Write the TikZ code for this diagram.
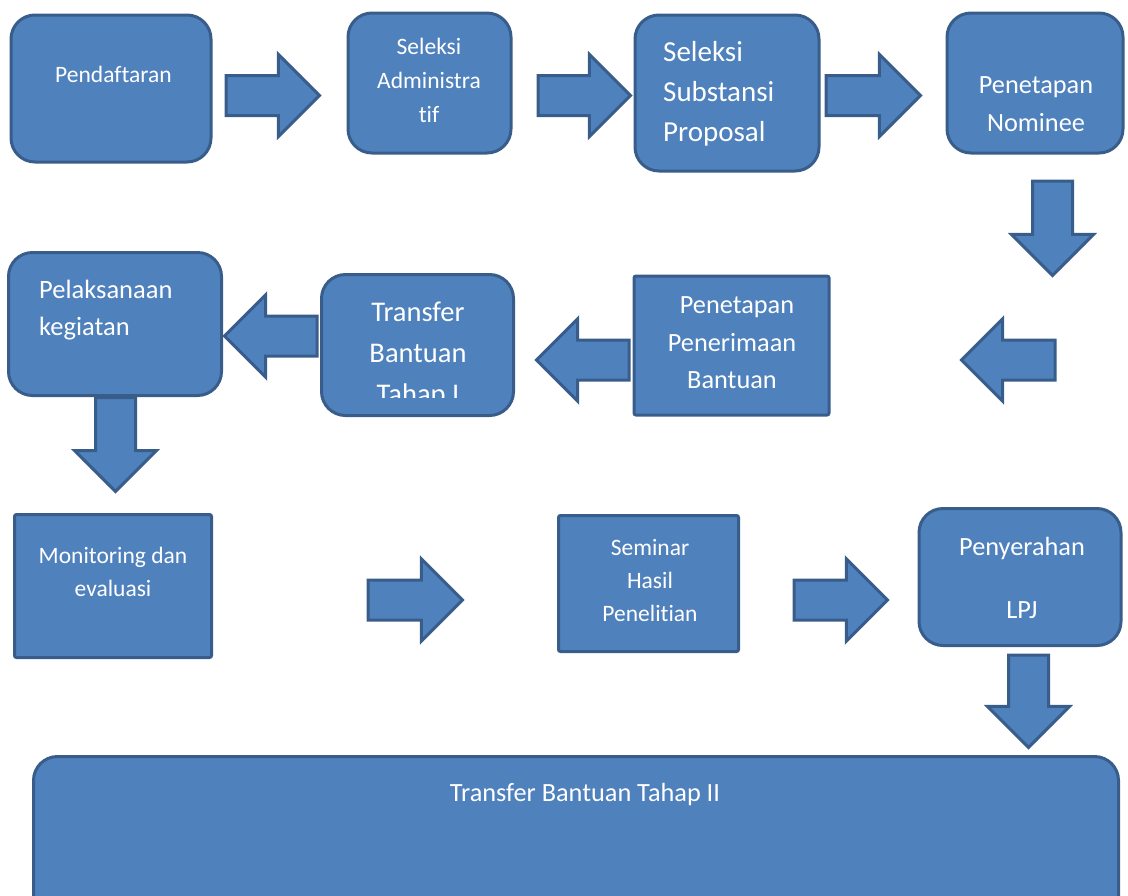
\documentclass[tikz,border=0pt]{standalone}
\usepackage{fontspec}
\setmainfont{Carlito}[Ligatures=NoCommon]
\usetikzlibrary{shapes.arrows}
\definecolor{boxfill}{HTML}{4F81BD}
\definecolor{boxline}{HTML}{385D8A}
\newcommand{\fsz}[2]{\fontsize{#1}{#2}\selectfont}

\begin{document}
\begin{tikzpicture}[x=1pt,y=-1pt,
  box/.style={draw=boxline,fill=boxfill,line width=3pt,rounded corners=24pt,inner sep=0pt},
  sbox/.style={box,rounded corners=2pt},
  txt/.style={text=white,inner sep=0pt,align=center},
  blk/.style={single arrow,draw=boxline,fill=boxfill,line width=3pt,inner xsep=0pt,inner ysep=18.5pt,
    single arrow head extend=21pt,single arrow tip angle=90,minimum height=#1,anchor=tail}]
  \useasboundingbox(0,0)rectangle(1128,895);
  \clip(0,0)rectangle(1128,895);
  \node[blk=93.4pt] (a1) at (224.5,95.5) {};
  \node[blk=92.4pt] (a2) at (536.5,95.5) {};
  \node[blk=94.4pt] (a3) at (824.5,95.5) {};
  \node[blk=94.4pt,rotate=-90] (a4) at (1052.5,179.5) {};
  \node[blk=93.4pt,rotate=180] (a5) at (1056.5,360) {};
  \node[blk=92.4pt,rotate=180] (a6) at (630.5,360) {};
  \node[blk=92.4pt,rotate=180] (a7) at (318.5,336) {};
  \node[blk=94pt,rotate=-90] (a8) at (115.5,396) {};
  \node[blk=94.4pt] (a9) at (366.5,600) {};
  \node[blk=93.4pt] (a10) at (792.5,600) {};
  \node[blk=92.4pt,rotate=-90] (a11) at (1028.5,653.5) {};

  \node[box,minimum width=200pt,minimum height=147pt] (daftar) at (111,88.5) {};
  \node[box,minimum width=163pt,minimum height=140pt] (admin) at (429.5,83) {};
  \node[box,minimum width=184pt,minimum height=156pt] (subst) at (727,93) {};
  \node[box,minimum width=176pt,minimum height=140pt] (nominee) at (1035,83) {};
  \node[sbox,minimum width=195pt,minimum height=139pt] (terima) at (731.5,345.5) {};
  \node[box,minimum width=192pt,minimum height=141pt] (tahap1) at (417.5,345) {};
  \node[box,minimum width=213pt,minimum height=143pt] (laksana) at (115,324) {};
  \node[sbox,minimum width=197pt,minimum height=143pt] (monev) at (113,586) {};
  \node[sbox,minimum width=180pt,minimum height=136pt] (seminar) at (648.5,583.5) {};
  \node[box,minimum width=202pt,minimum height=137pt] (lpj) at (1020,577) {};
  \node[box,minimum width=1085pt,minimum height=172pt] (tahap2) at (576,842.5) {};

  \node[txt,font=\fsz{23.5}{34}] (daftar-t) at (113.5,74) {Pendaftaran};
  \node[txt,font=\fsz{23.5}{34}] (admin-t) at (429,80) {Seleksi\\Administra\\tif};
  \node[txt,font=\fsz{29}{40},align=left,anchor=west] (subst-t) at (663,94) {Seleksi\\Substansi\\Proposal};
  \node[txt,font=\fsz{26.3}{38}] (nominee-t) at (1036,104) {Penetapan\\Nominee};
  \node[txt,font=\fsz{26.3}{37.5}] (terima-t) at (732,343) {\hspace*{10pt}Penetapan\\Penerimaan\\Bantuan};
  \begin{scope}
    \clip(322,275)rectangle(513,397);
    \node[txt,font=\fsz{28.5}{41}] (tahap1-t) at (418,355) {Transfer\\Bantuan\\Tahap I};
  \end{scope}
  \node[txt,font=\fsz{26.5}{37},align=left,anchor=west] (laksana-t) at (39,310) {Pelaksanaan\\kegiatan};
  \node[txt,font=\fsz{23.5}{33}] (monev-t) at (113,572) {Monitoring dan\\evaluasi};
  \node[txt,font=\fsz{23.5}{33}] (seminar-t) at (650,580) {Seminar\\Hasil\\Penelitian};
  \node[txt,font=\fsz{26.3}{31.5}] (lpj-t) at (1022,578) {Penyerahan\\[31.5pt]LPJ};
  \node[txt,font=\fsz{26.3}{34}] (tahap2-t) at (585,794) {Transfer Bantuan Tahap II};
\end{tikzpicture}
\end{document}
